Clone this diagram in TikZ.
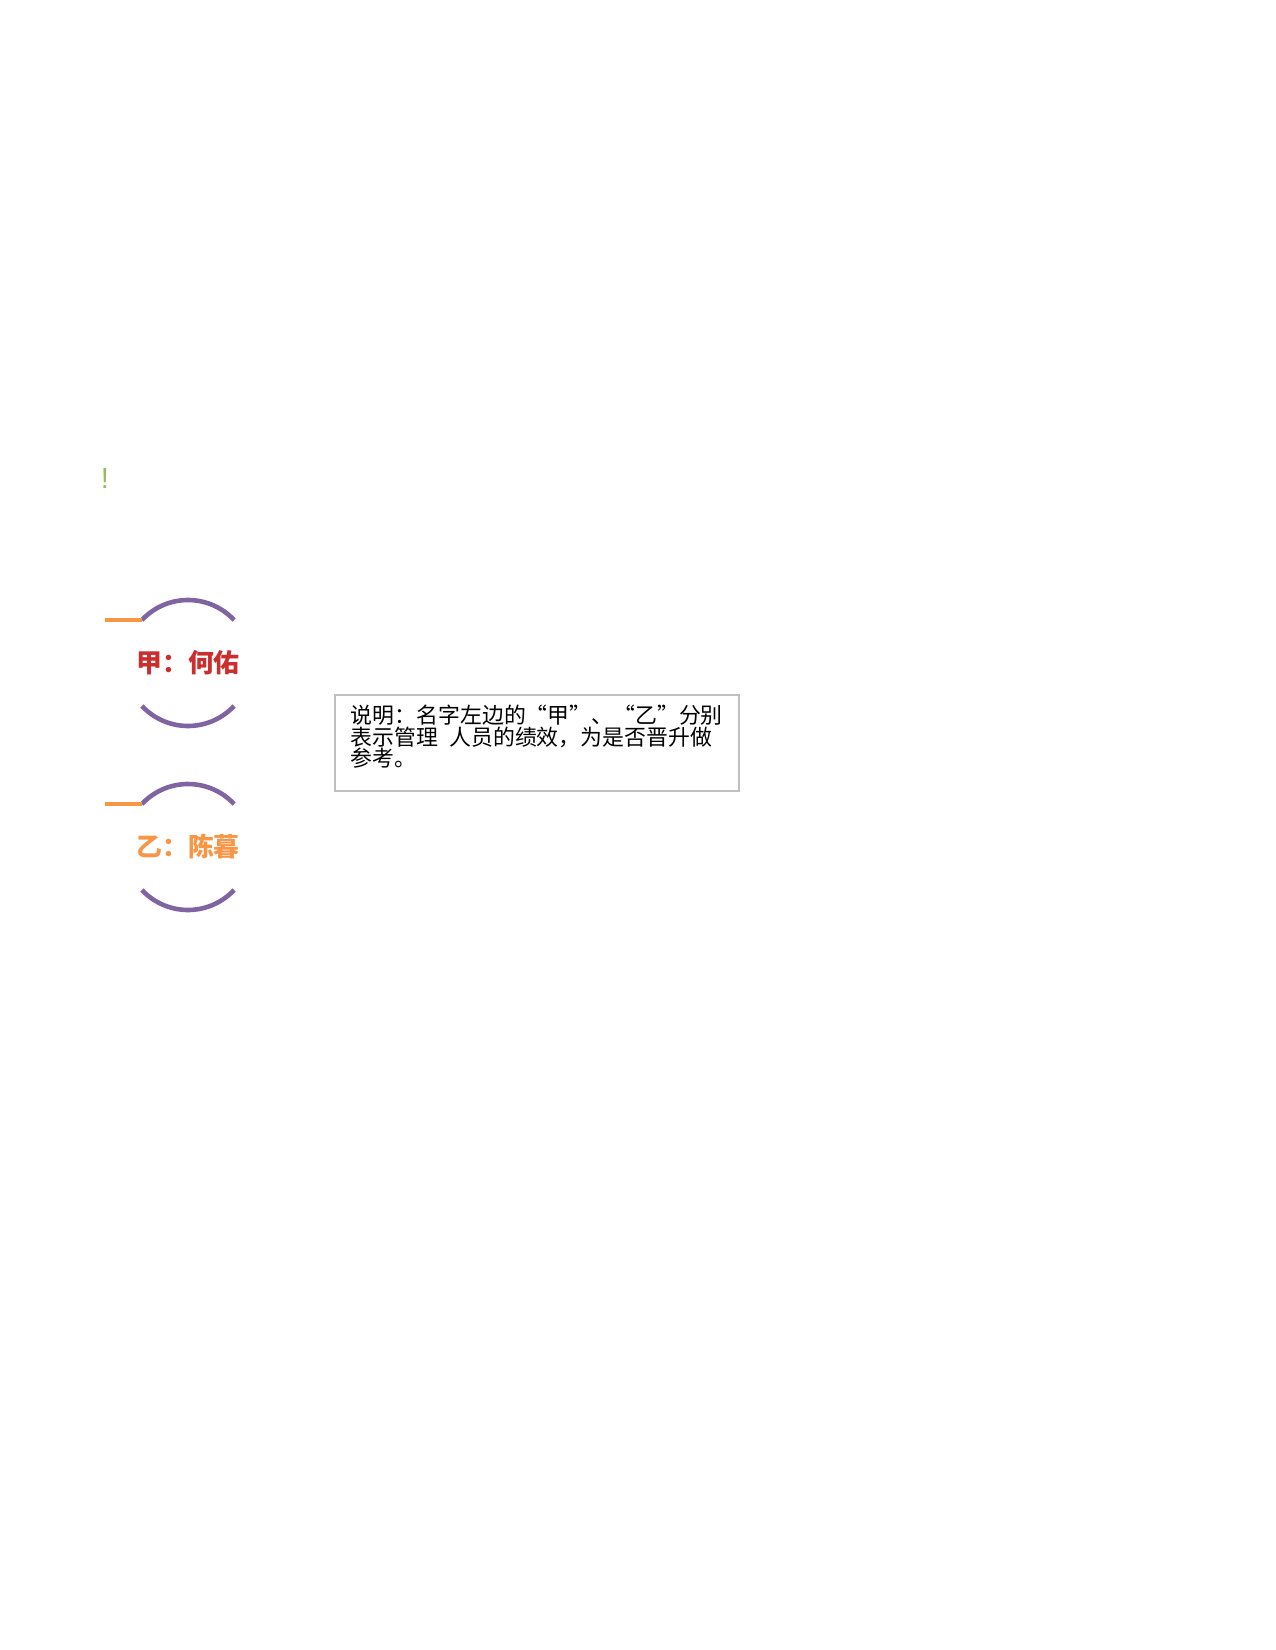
\documentclass[tikz,border=0pt]{standalone}
\usepackage{fontspec}
\setmainfont{Liberation Sans}
\newfontfamily\cjk{Noto Sans CJK SC}
\definecolor{ringpurple}{HTML}{8064A2}
\definecolor{tickorange}{HTML}{F79646}
\definecolor{jiared}{HTML}{CC2D2D}
\definecolor{yiorange}{HTML}{F79646}
\definecolor{notegray}{HTML}{BFBFBF}
\definecolor{bangreen}{HTML}{9BBB59}

\begin{document}
\begin{tikzpicture}[x=0.48pt, y=0.48pt,
ring/.style={draw=ringpurple, line width=2.2pt},
tick/.style={draw=tickorange, line width=1.8pt},
person/.style={font=\cjk\bfseries\fontsize{12.4}{14}\selectfont, inner sep=0pt},
notebox/.style={draw=notegray, line width=1pt, minimum width=194pt, minimum height=46pt},
notetext/.style={font=\cjk\fontsize{10.5}{10.4}\selectfont, align=left, inner sep=0pt},
bang/.style={font=\fontsize{14}{16}\selectfont, text=bangreen, inner sep=0pt},
]
\useasboundingbox (0,0) rectangle (1275,-1650);
\node [bang] (B) at (105,-478) {!};
\node [person] [text=jiared] (J) at (188,-663) {甲：何佑};
\node [person] [text=yiorange] (Y) at (188,-847) {乙：陈暮};
\draw [ring] (J.center) ++(43:63) arc (43:137:63) coordinate (JL);
\draw [ring] (J.center) ++(223:63) arc (223:317:63);
\draw [ring] (Y.center) ++(43:63) arc (43:137:63) coordinate (YL);
\draw [ring] (Y.center) ++(223:63) arc (223:317:63);
\coordinate (JT) at ([xshift=-17.8pt]JL);
\coordinate (YT) at ([xshift=-17.8pt]YL);
\draw [tick] (JT) -- (JL);
\draw [tick] (YT) -- (YL);
\node [notebox] (N) at (537,-743) {};
\node [notetext] [anchor=north west] (NT) at ([xshift=8pt, yshift=-5pt]N.north west)
	{说明：名字左边的“甲”、“乙”分别\\表示管理\hspace{0.5em}人员的绩效，为是否晋升做\\参考。};
\end{tikzpicture}
\end{document}
